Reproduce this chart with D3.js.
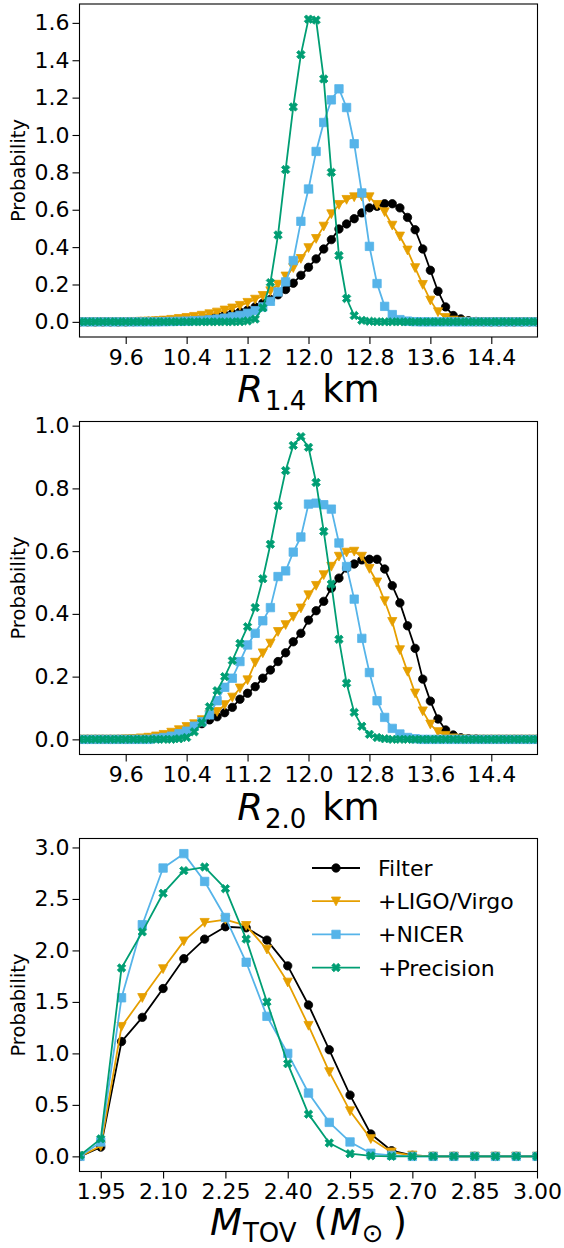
<!DOCTYPE html>
<html>
<head>
<meta charset="utf-8">
<script src="https://cdn.jsdelivr.net/npm/d3@7"></script>
<style>
  body { margin: 0; background: #fff; }
  svg { display: block; }
  text { font-family: "DejaVu Sans", sans-serif; white-space: pre; }
</style>
</head>
<body>
<script>
// radius grid (km), shared by the two radius panels
const radius = [
  9.0, 9.1, 9.2, 9.3, 9.4, 9.5, 9.6, 9.7, 9.8, 9.9,
  10.0, 10.1, 10.2, 10.3, 10.4, 10.5, 10.6, 10.7, 10.8, 10.9,
  11.0, 11.1, 11.2, 11.3, 11.4, 11.5, 11.6, 11.7, 11.8, 11.9,
  12.0, 12.1, 12.2, 12.3, 12.4, 12.5, 12.6, 12.7, 12.8, 12.9,
  13.0, 13.1, 13.2, 13.3, 13.4, 13.5, 13.6, 13.7, 13.8, 13.9,
  14.0, 14.1, 14.2, 14.3, 14.4, 14.5, 14.6, 14.7, 14.8, 14.9, 15.0
];

// R_1.4
const filterR14 = [
  0, 0, 0, 0, 0, 0, 0, 0.001, 0.002, 0.003,
  0.004, 0.006, 0.008, 0.010, 0.013, 0.016, 0.020, 0.025, 0.031, 0.037,
  0.045, 0.053, 0.063, 0.080, 0.100, 0.120, 0.145, 0.173, 0.207, 0.249,
  0.292, 0.337, 0.390, 0.440, 0.497, 0.524, 0.552, 0.583, 0.610, 0.618,
  0.632, 0.632, 0.610, 0.559, 0.493, 0.390, 0.276, 0.164, 0.080, 0.034,
  0.016, 0.006, 0.002, 0.001, 0, 0, 0, 0, 0, 0, 0
];
const ligoR14 = [
  0, 0, 0, 0, 0, 0, 0, 0.001, 0.002, 0.003,
  0.005, 0.008, 0.012, 0.017, 0.022, 0.028, 0.034, 0.042, 0.051, 0.062,
  0.073, 0.087, 0.103, 0.120, 0.140, 0.165, 0.200, 0.244, 0.289, 0.338,
  0.396, 0.445, 0.511, 0.577, 0.627, 0.654, 0.668, 0.671, 0.668, 0.627,
  0.588, 0.516, 0.458, 0.383, 0.289, 0.199, 0.115, 0.053, 0.022, 0.008,
  0.003, 0.001, 0, 0, 0, 0, 0, 0, 0, 0, 0
];
const nicerR14 = [
  0, 0, 0, 0, 0, 0, 0, 0, 0, 0,
  0, 0.001, 0.002, 0.003, 0.004, 0.006, 0.008, 0.011, 0.015, 0.020,
  0.027, 0.035, 0.046, 0.060, 0.080, 0.110, 0.160, 0.214, 0.328, 0.538,
  0.711, 0.912, 1.067, 1.188, 1.247, 1.147, 0.953, 0.690, 0.404, 0.205,
  0.083, 0.039, 0.012, 0.004, 0.001, 0, 0, 0, 0, 0,
  0, 0, 0, 0, 0, 0, 0, 0, 0, 0, 0
];
const precisionR14 = [
  0, 0, 0, 0, 0, 0, 0, 0, 0, 0,
  0, 0, 0, 0, 0, 0, 0, 0, 0, 0,
  0, 0.001, 0.005, 0.015, 0.075, 0.210, 0.465, 0.815, 1.150, 1.430,
  1.620, 1.615, 1.300, 0.800, 0.355, 0.125, 0.034, 0.008, 0.003, 0.001,
  0, 0, 0, 0, 0, 0, 0, 0, 0, 0,
  0, 0, 0, 0, 0, 0, 0, 0, 0, 0, 0
];

// R_2.0
const filterR20 = [
  0, 0, 0, 0, 0, 0, 0, 0.001, 0.002, 0.004,
  0.007, 0.011, 0.016, 0.022, 0.030, 0.040, 0.050, 0.062, 0.072, 0.085,
  0.102, 0.128, 0.147, 0.168, 0.195, 0.221, 0.248, 0.276, 0.311, 0.338,
  0.380, 0.410, 0.440, 0.482, 0.514, 0.546, 0.559, 0.572, 0.574, 0.574,
  0.543, 0.490, 0.435, 0.362, 0.290, 0.192, 0.122, 0.065, 0.030, 0.014,
  0.005, 0.002, 0.001, 0, 0, 0, 0, 0, 0, 0, 0
];
const ligoR20 = [
  0, 0, 0, 0, 0, 0, 0.001, 0.002, 0.004, 0.006,
  0.010, 0.015, 0.022, 0.030, 0.040, 0.049, 0.062, 0.078, 0.088, 0.110,
  0.134, 0.163, 0.189, 0.245, 0.275, 0.306, 0.343, 0.365, 0.391, 0.418,
  0.460, 0.490, 0.524, 0.551, 0.583, 0.596, 0.599, 0.583, 0.544, 0.501,
  0.441, 0.375, 0.285, 0.216, 0.147, 0.090, 0.048, 0.024, 0.012, 0.004,
  0.001, 0, 0, 0, 0, 0, 0, 0, 0, 0, 0
];
const nicerR20 = [
  0, 0, 0, 0, 0, 0, 0, 0, 0, 0,
  0.003, 0.006, 0.010, 0.018, 0.026, 0.042, 0.056, 0.078, 0.123, 0.166,
  0.195, 0.248, 0.301, 0.338, 0.378, 0.420, 0.519, 0.537, 0.597, 0.645,
  0.750, 0.753, 0.748, 0.734, 0.626, 0.551, 0.447, 0.322, 0.213, 0.123,
  0.070, 0.035, 0.017, 0.006, 0.002, 0, 0, 0, 0, 0,
  0, 0, 0, 0, 0, 0, 0, 0, 0, 0, 0
];
const precisionR20 = [
  0, 0, 0, 0, 0, 0, 0, 0, 0, 0,
  0, 0, 0, 0.002, 0.006, 0.024, 0.053, 0.104, 0.155, 0.200,
  0.251, 0.306, 0.359, 0.420, 0.512, 0.622, 0.745, 0.857, 0.937, 0.965,
  0.931, 0.819, 0.663, 0.495, 0.319, 0.179, 0.086, 0.042, 0.016, 0.006,
  0.002, 0, 0, 0, 0, 0, 0, 0, 0, 0,
  0, 0, 0, 0, 0, 0, 0, 0, 0, 0, 0
];

// M_TOV grid (solar masses)
const mass = [1.90, 1.95, 2.00, 2.05, 2.10, 2.15, 2.20, 2.25, 2.30, 2.35, 2.40, 2.45,
              2.50, 2.55, 2.60, 2.65, 2.70, 2.75, 2.80, 2.85, 2.90, 2.95, 3.00];
const filterM = [0.0, 0.09, 1.115, 1.35, 1.63, 1.92, 2.11, 2.23, 2.22, 2.10, 1.85, 1.47,
                 1.035, 0.595, 0.217, 0.055, 0.01, 0, 0, 0, 0, 0, 0];
const ligoM = [0.0, 0.10, 1.26, 1.54, 1.82, 2.09, 2.27, 2.30, 2.24, 2.01, 1.69, 1.27,
               0.82, 0.44, 0.17, 0.04, 0.01, 0, 0, 0, 0, 0, 0];
const nicerM = [0.0, 0.14, 1.54, 2.25, 2.80, 2.94, 2.67, 2.32, 1.885, 1.36, 1.00, 0.615,
                0.33, 0.14, 0.03, 0.01, 0, 0, 0, 0, 0, 0, 0];
const precisionM = [0.01, 0.17, 1.83, 2.18, 2.555, 2.775, 2.81, 2.60, 2.11, 1.50, 0.90, 0.41,
                    0.13, 0.026, 0.005, 0, 0, 0, 0, 0, 0, 0, 0];

const seriesNames = ["Filter", "+LIGO/Virgo", "+NICER", "+Precision"];
const radiusTicks = [9.6, 10.4, 11.2, 12.0, 12.8, 13.6, 14.4];
const massTicks = [1.95, 2.10, 2.25, 2.40, 2.55, 2.70, 2.85, 3.00];
const probTicksR14 = [0, 0.2, 0.4, 0.6, 0.8, 1.0, 1.2, 1.4, 1.6];
const probTicksR20 = [0, 0.2, 0.4, 0.6, 0.8, 1.0];
const probTicksM = [0, 0.5, 1.0, 1.5, 2.0, 2.5, 3.0];

const colors = ["#000000", "#E69F00", "#56B4E9", "#009E73"];
const shapes = ["circle", "tri", "square", "x"];

const W = 564, H = 1248;
const left = 80, right = 537, plotH = 333;

const svg = d3.select("body").append("svg")
  .attr("width", W).attr("height", H);

// filled X, like matplotlib's "X"
const xPts = [[-1,-3],[1,-3],[1,-1],[3,-1],[3,1],[1,1],[1,3],[-1,3],[-1,1],[-3,1],[-3,-1],[-1,-1]];
function markerPath(kind) {
  if (kind === "circle") return d3.symbol(d3.symbolCircle, Math.PI * 4.2 * 4.2)();
  if (kind === "square") return d3.symbol(d3.symbolSquare, 8.4 * 8.4)();
  if (kind === "tri") return "M-4.6,-4.2L4.6,-4.2L0,4.6Z";
  const s = 9 / 6, c = Math.SQRT1_2;
  return "M" + xPts.map(([a, b]) => [(a - b) * c * s, (a + b) * c * s].map(v => v.toFixed(2)).join(",")).join("L") + "Z";
}

function panel(cfg) {
  const g = svg.append("g");
  const top = cfg.top, bottom = cfg.top + plotH;

  const x = d3.scaleLinear().domain(cfg.xDomain).range([left, right]);
  const ymax = d3.max(cfg.values, v => d3.max(v));
  const ymin = 0;
  const pad = (ymax - ymin) * 0.05;
  const y = d3.scaleLinear().domain([ymin - pad, ymax + pad]).range([bottom, top]);

  const clip = "clip" + Math.round(cfg.top);
  g.append("clipPath").attr("id", clip)
    .append("rect").attr("x", left).attr("y", top).attr("width", right - left).attr("height", plotH);

  const plot = g.append("g").attr("clip-path", `url(#${clip})`);
  cfg.values.forEach((vals, i) => {
    const pts = cfg.xs.map((d, j) => [d, vals[j]]);
    plot.append("path")
      .datum(pts)
      .attr("fill", "none")
      .attr("stroke", colors[i])
      .attr("stroke-width", 1.8)
      .attr("stroke-linejoin", "round")
      .attr("d", d3.line().x(d => x(d[0])).y(d => y(d[1])));
    plot.selectAll(null)
      .data(pts)
      .join("path")
      .attr("transform", d => `translate(${x(d[0])},${y(d[1])})`)
      .attr("d", markerPath(shapes[i]))
      .attr("fill", colors[i])
      .attr("stroke", colors[i])
      .attr("stroke-width", 0.8);
  });

  // frame
  g.append("rect")
    .attr("x", left - 0.5).attr("y", top)
    .attr("width", right - left + 1).attr("height", plotH)
    .attr("fill", "none").attr("stroke", "#000").attr("stroke-width", 1.1);

  const xAxis = g.append("g")
    .attr("transform", `translate(0,${bottom})`)
    .call(d3.axisBottom(x).tickValues(cfg.xTicks).tickFormat(cfg.xFmt)
      .tickSize(7).tickSizeOuter(0).tickPadding(5));
  xAxis.select(".domain").remove();

  const yAxis = g.append("g")
    .attr("transform", `translate(${left - 0.5},0)`)
    .call(d3.axisLeft(y).tickValues(cfg.yTicks).tickFormat(cfg.yFmt)
      .tickSize(7).tickSizeOuter(0).tickPadding(3));
  yAxis.select(".domain").remove();

  g.selectAll(".tick line").attr("stroke", "#000").attr("stroke-width", 1.1);
  g.selectAll(".tick text")
    .attr("fill", "#000")
    .style("font-family", "'DejaVu Sans', sans-serif")
    .style("font-size", "22px");

  g.append("text")
    .attr("transform", `translate(25,${(top + bottom) / 2}) rotate(-90)`)
    .attr("text-anchor", "middle")
    .style("font-size", "19.5px")
    .text("Probability");

  const lab = g.append("text")
    .attr("x", (left + right) / 2)
    .attr("y", bottom + cfg.labelGap)
    .attr("text-anchor", "middle")
    .style("font-size", "37px");
  cfg.xlabel(lab);

  return { g, x, y };
}

const f1 = d3.format(".1f"), f2 = d3.format(".2f");

panel({
  top: 4, xs: radius, xDomain: [9, 15], xTicks: radiusTicks, xFmt: f1,
  yTicks: probTicksR14, yFmt: f1, labelGap: 65,
  values: [filterR14, ligoR14, nicerR14, precisionR14],
  xlabel: t => {
    t.append("tspan").style("font-style", "italic").text("R");
    t.append("tspan").attr("dx", 2).attr("dy", 8).style("font-size", "26px").text("1.4");
    t.append("tspan").attr("dx", 4).attr("dy", -8).text(" km");
  }
});

panel({
  top: 421.5, xs: radius, xDomain: [9, 15], xTicks: radiusTicks, xFmt: f1,
  yTicks: probTicksR20, yFmt: f1, labelGap: 65,
  values: [filterR20, ligoR20, nicerR20, precisionR20],
  xlabel: t => {
    t.append("tspan").style("font-style", "italic").text("R");
    t.append("tspan").attr("dx", 2).attr("dy", 8).style("font-size", "26px").text("2.0");
    t.append("tspan").attr("dx", 4).attr("dy", -8).text(" km");
  }
});

const p3 = panel({
  top: 838.5, xs: mass, xDomain: [1.9, 3.0], xTicks: massTicks, xFmt: f2,
  yTicks: probTicksM, yFmt: f1, labelGap: 63.5,
  values: [filterM, ligoM, nicerM, precisionM],
  xlabel: t => {
    t.append("tspan").style("font-style", "italic").text("M");
    t.append("tspan").attr("dx", 1).attr("dy", 6.5).style("font-size", "26px").text("TOV");
    t.append("tspan").attr("dx", 5).attr("dy", -6.5).text(" (");
    t.append("tspan").attr("dx", 2).style("font-style", "italic").text("M");
    t.append("tspan").attr("dy", 6.5).style("font-size", "26px").text("\u2299");
    t.append("tspan").attr("dx", 9).attr("dy", -6.5).text(")");
  }
});

// legend, upper right of the mass panel
const leg = p3.g.append("g").attr("transform", "translate(312,868)");
seriesNames.forEach((name, i) => {
  const row = leg.append("g").attr("transform", `translate(0,${i * 33.2})`);
  row.append("line").attr("x1", 0).attr("x2", 48)
    .attr("stroke", colors[i]).attr("stroke-width", 1.8);
  row.append("path").attr("transform", "translate(24,0)")
    .attr("d", markerPath(shapes[i]))
    .attr("fill", colors[i]).attr("stroke", colors[i]).attr("stroke-width", 0.8);
  row.append("text").attr("x", 66).attr("y", 8)
    .style("font-size", "22px").text(name);
});
</script>
</body>
</html>
